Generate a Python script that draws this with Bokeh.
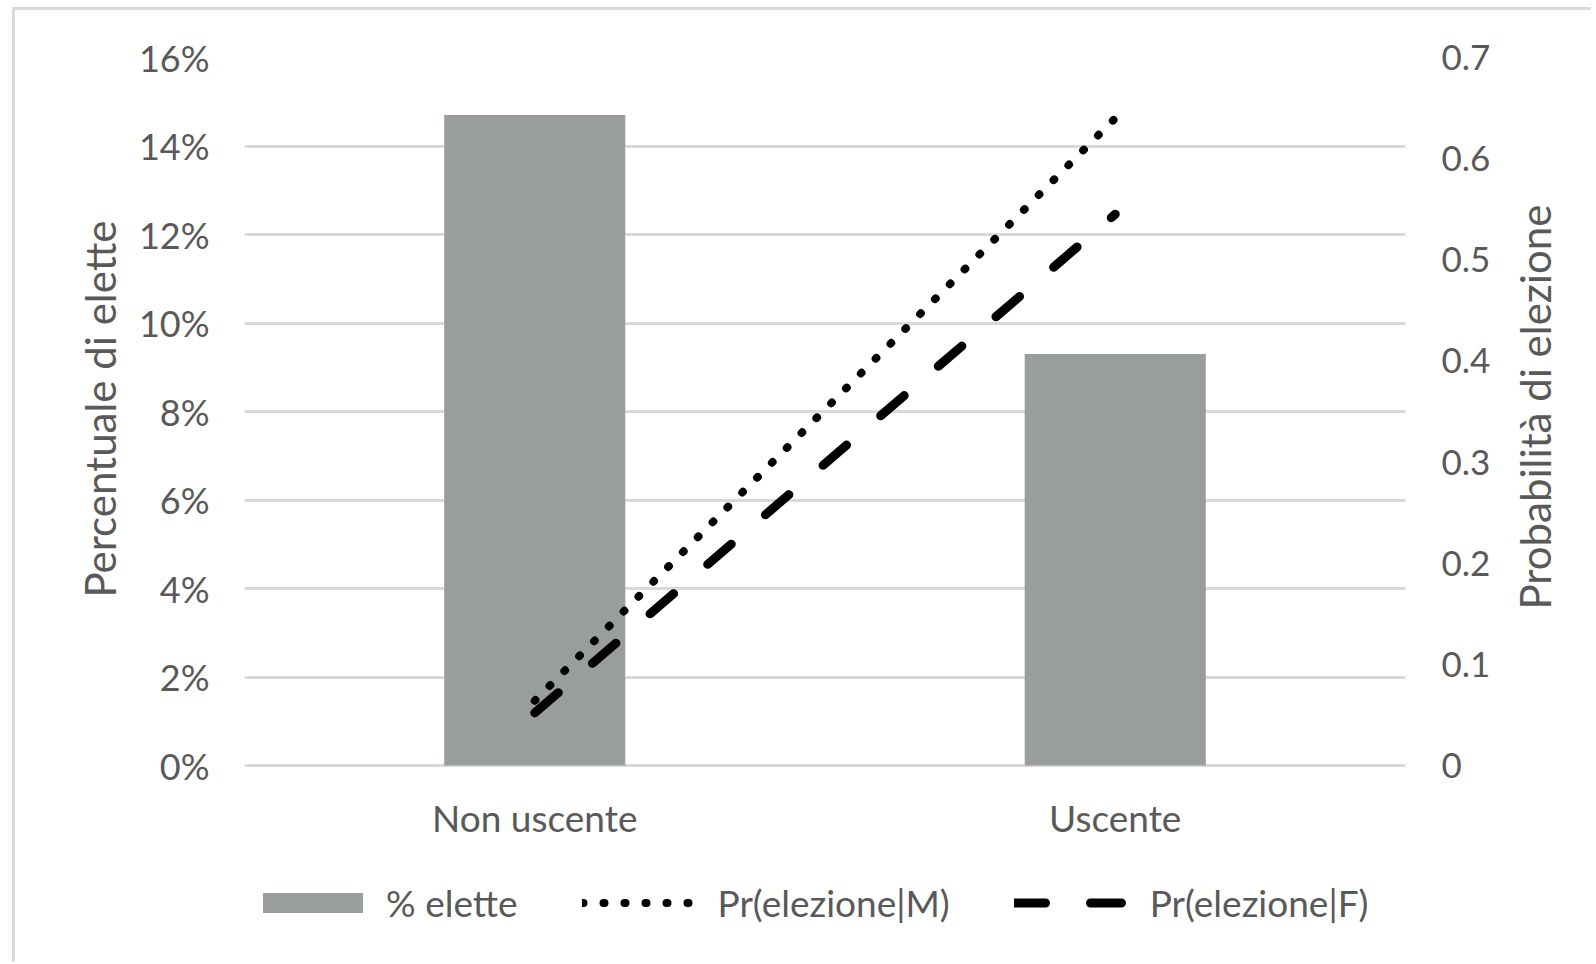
import math
from bokeh.plotting import figure
from bokeh.models import (FactorRange, Range1d, LinearAxis, FixedTicker,
                          NumeralTickFormatter, CustomJSTickFormatter, Legend,
                          LegendItem, ColumnDataSource)
from bokeh.core.properties import value
from bokeh.embed import file_html
from bokeh.resources import INLINE

# ---- data ----
categories = ["Non uscente", "Uscente"]
pct_elette = [0.147, 0.093]          # % elette (left axis)
pr_m = [0.064, 0.640]                # Pr(elezione|M) (right axis)
pr_f = [0.052, 0.545]                # Pr(elezione|F) (right axis)
left_ticks = [0.0, 0.02, 0.04, 0.06, 0.08, 0.10, 0.12, 0.14, 0.16]
right_ticks = [0.0, 0.1, 0.2, 0.3, 0.4, 0.5, 0.6, 0.7]
series_names = ["% elette", "Pr(elezione|M)", "Pr(elezione|F)"]
left_title = "Percentuale di elette"
right_title = "Probabilità di elezione"

FONT = "Lato"
TXT = "#595959"
GRID = "#D9D9D9"
BAR = "#9A9D9E"

# ---- layout (page pixels) ----
OFF_X, OFF_Y = 15, 10          # css margin + border before the canvas
FRAME_LEFT, FRAME_TOP = 244, 57
PLOT_W, PLOT_H = 1161, 708     # area between 0 and the top tick
FRAME_BOTTOM = 940             # frame extended below 0 to hold labels and legend
EXTRA = FRAME_BOTTOM - (FRAME_TOP + PLOT_H)
LEFT_MAX, RIGHT_MAX = left_ticks[-1], right_ticks[-1]
px_left = PLOT_H / LEFT_MAX
px_right = PLOT_H / RIGHT_MAX

src = ColumnDataSource(dict(cat=categories, pct=pct_elette, m=pr_m, f=pr_f))

p = figure(x_range=FactorRange(*categories),
           y_range=Range1d(-EXTRA / px_left, LEFT_MAX),
           frame_width=PLOT_W, frame_height=FRAME_BOTTOM - FRAME_TOP,
           min_border_left=FRAME_LEFT - OFF_X, min_border_right=186,
           min_border_top=FRAME_TOP - OFF_Y, min_border_bottom=22,
           output_backend="svg", toolbar_location=None, tools="")
p.extra_y_ranges = {"prob": Range1d(-EXTRA / px_right, RIGHT_MAX)}
p.outline_line_color = None
p.background_fill_color = "white"
p.border_fill_color = "white"
p.styles = {"margin-left": "12px", "margin-top": "7px",
            "border-left": f"3px solid {GRID}", "border-top": f"3px solid {GRID}"}

bars = p.vbar(x="cat", top="pct", width=0.312, source=src,
              fill_color=BAR, line_color=None)
lm = p.line(x="cat", y="m", source=src, y_range_name="prob",
            line_color="black", line_width=8, line_dash="1 20", line_cap="round")
lf = p.line(x="cat", y="f", source=src, y_range_name="prob",
            line_color="black", line_width=9, line_dash="31 45", line_cap="round")

# category labels (under the 0 baseline)
p.text(x=categories, y=[-52 / px_left] * len(categories), text=categories,
       text_align="center", text_baseline="middle",
       text_font=value(FONT), text_font_size="37px", text_color=TXT)
p.xaxis.visible = False

# grid
p.xgrid.visible = False
p.ygrid.ticker = FixedTicker(ticks=left_ticks)
p.ygrid.grid_line_color = GRID
p.ygrid.grid_line_width = 3

def plain(ax, size, standoff):
    ax.axis_line_color = None
    ax.major_tick_line_color = None
    ax.minor_tick_line_color = None
    ax.major_label_standoff = standoff
    ax.major_label_text_font = FONT
    ax.major_label_text_font_size = size
    ax.major_label_text_color = TXT

# left axis
ya = p.yaxis[0]
ya.ticker = FixedTicker(ticks=left_ticks)
ya.formatter = NumeralTickFormatter(format="0%")
plain(ya, "36px", 29)

# left title (vertical, reads bottom-to-top)
lt = LinearAxis(ticker=FixedTicker(ticks=[(FRAME_TOP + PLOT_H - 220) / px_left]),
                formatter=CustomJSTickFormatter(args=dict(t=left_title), code="return t"))
plain(lt, "42px", 30)
lt.major_label_orientation = math.pi / 2
p.add_layout(lt, "left")

# right axis
ra = LinearAxis(y_range_name="prob", ticker=FixedTicker(ticks=right_ticks),
                formatter=NumeralTickFormatter(format="0.[0]"))
plain(ra, "35px", 30)
p.add_layout(ra, "right")

# right title (vertical, reads bottom-to-top)
rt = LinearAxis(y_range_name="prob",
                ticker=FixedTicker(ticks=[(FRAME_TOP + PLOT_H - 609) / px_right]),
                formatter=CustomJSTickFormatter(args=dict(t=right_title), code="return t"))
plain(rt, "42px", 35)
rt.major_label_orientation = math.pi / 2
p.add_layout(rt, "right")

legend = Legend(items=[LegendItem(label=series_names[0], renderers=[bars]),
                       LegendItem(label=series_names[1], renderers=[lm]),
                       LegendItem(label=series_names[2], renderers=[lf])],
                orientation="horizontal", location=(6, 15),
                glyph_width=125, glyph_height=25, label_height=25,
                label_standoff=11, spacing=64,
                padding=0, margin=0, border_line_color=None,
                background_fill_alpha=0,
                label_text_font=FONT, label_text_font_size="37px",
                label_text_color=TXT)
p.add_layout(legend)

open("out.html", "w").write(file_html(p, INLINE))
